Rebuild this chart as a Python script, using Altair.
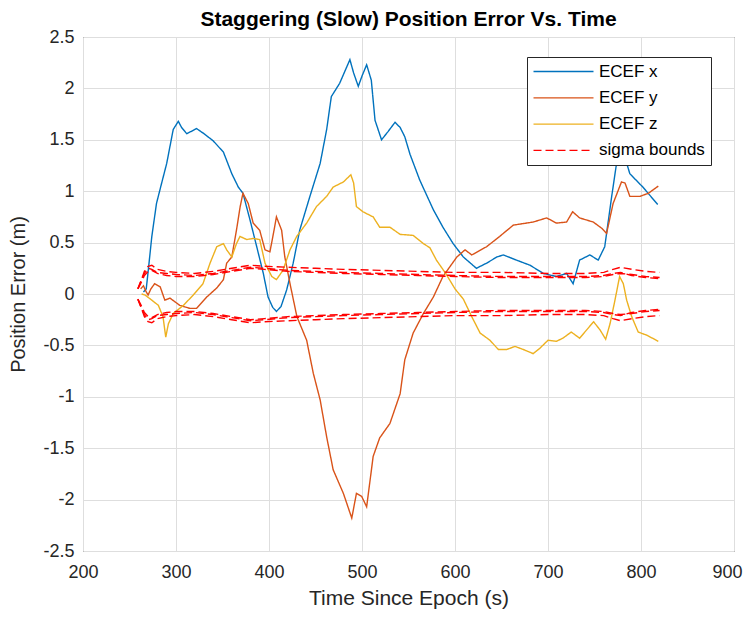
import altair as alt
import pandas as pd

# ---------------- data ----------------
x_t = [265, 268, 271, 274, 279, 284.6, 290, 297, 302.5, 306, 311.5, 316, 322, 330, 340, 351, 360, 367, 372,
       379.6, 386.8, 393.9, 399, 404, 408, 413, 419, 426, 433, 444, 455, 462, 467, 476, 487, 491, 496, 500,
       505, 510, 514, 521, 528, 535.5, 541, 546, 551.6, 562, 576.7, 587, 598, 609, 623, 634, 645, 652, 666,
       680.6, 695, 709, 720, 727, 734, 745, 754, 761, 768.5, 775, 778, 782, 788, 802, 818]
x_v = [0.02, 0.05, 0.3, 0.56, 0.88, 1.08, 1.27, 1.60, 1.68, 1.62, 1.56, 1.58, 1.61, 1.56, 1.49, 1.38, 1.17,
       1.04, 0.98, 0.72, 0.46, 0.20, -0.03, -0.13, -0.17, -0.12, 0.04, 0.30, 0.62, 0.95, 1.27, 1.6, 1.92,
       2.05, 2.28, 2.15, 2.02, 2.12, 2.23, 2.08, 1.69, 1.50, 1.58, 1.67, 1.62, 1.53, 1.36, 1.11, 0.82, 0.65,
       0.49, 0.36, 0.25, 0.30, 0.36, 0.38, 0.33, 0.28, 0.20, 0.17, 0.20, 0.10, 0.33, 0.38, 0.33, 0.46, 0.95,
       1.35, 1.45, 1.35, 1.17, 1.04, 0.87]

y_t = [262, 265, 268, 270, 273, 277, 283, 288, 293.5, 304, 315, 322, 333, 344, 351, 354.5, 360, 365, 369,
       372, 377.7, 383, 390, 395.7, 401, 405, 408, 413.6, 417, 422.6, 430, 440.5, 447.6, 455, 462, 469, 480,
       489, 494, 499.7, 505, 512, 519, 530, 541, 546, 555, 566, 576.7, 587, 602, 610.8, 618, 634, 648,
       662.7, 684, 698.6, 709, 720, 726.5, 734, 748.7, 757.7, 763, 770, 779, 782.8, 788, 799, 808, 818.6]
y_v = [0.05, 0.08, 0.02, -0.01, 0.05, 0.10, 0.07, -0.06, -0.04, -0.11, -0.14, -0.14, -0.03, 0.06, 0.14,
       0.30, 0.36, 0.62, 0.85, 0.98, 0.88, 0.69, 0.62, 0.43, 0.41, 0.60, 0.75, 0.62, 0.36, 0.10, -0.22,
       -0.45, -0.77, -1.03, -1.39, -1.71, -1.94, -2.18, -1.94, -1.97, -2.07, -1.58, -1.40, -1.26, -0.97,
       -0.64, -0.38, -0.19, -0.03, 0.17, 0.36, 0.43, 0.38, 0.46, 0.56, 0.67, 0.70, 0.74, 0.69, 0.70, 0.80,
       0.74, 0.70, 0.64, 0.59, 0.88, 1.09, 1.08, 0.95, 0.95, 0.98, 1.05]

z_t = [263, 266.7, 274, 281, 286, 289, 291.8, 297, 308, 318.6, 329, 336.6, 343.8, 351, 354.5, 360, 365,
       368.8, 376, 383, 390, 395.7, 403, 408, 415, 422.6, 429.8, 440.5, 451, 462, 469, 480, 488, 491, 494,
       501, 512, 519, 530, 541, 555, 566, 573, 580, 590, 600, 609, 618, 627, 637.6, 646.6, 655.6, 664.5,
       673.5, 684, 691, 700, 709, 716, 725, 734, 749, 756, 762, 766.7, 772, 777, 781, 784.6, 790, 797, 806,
       818.6]
z_v = [0.0, -0.01, -0.06, -0.11, -0.22, -0.42, -0.29, -0.19, -0.11, -0.01, 0.10, 0.30, 0.46, 0.49, 0.43,
       0.36, 0.49, 0.56, 0.53, 0.54, 0.53, 0.30, 0.17, 0.14, 0.23, 0.43, 0.56, 0.69, 0.85, 0.95, 1.04, 1.09,
       1.16, 1.08, 0.85, 0.80, 0.75, 0.65, 0.65, 0.58, 0.57, 0.49, 0.45, 0.33, 0.20, 0.05, -0.05, -0.22,
       -0.38, -0.45, -0.54, -0.54, -0.51, -0.54, -0.58, -0.53, -0.45, -0.46, -0.43, -0.37, -0.43, -0.27,
       -0.35, -0.44, -0.29, -0.06, 0.17, 0.10, -0.06, -0.22, -0.37, -0.40, -0.46]

sig_t = [259, 262, 266, 270, 274, 280, 290, 300, 320, 340, 360, 380, 395, 420, 450, 480, 520, 560, 600,
         650, 700, 740, 760, 770, 778, 790, 805, 820]
sig_x = [0.05, 0.12, 0.20, 0.25, 0.24, 0.21, 0.20, 0.19, 0.18, 0.20, 0.23, 0.26, 0.25, 0.23, 0.22, 0.21,
         0.20, 0.19, 0.18, 0.17, 0.17, 0.17, 0.18, 0.20, 0.21, 0.18, 0.16, 0.15]
sig_y = [0.05, 0.12, 0.22, 0.27, 0.28, 0.24, 0.22, 0.21, 0.20, 0.22, 0.25, 0.28, 0.27, 0.26, 0.25, 0.24,
         0.23, 0.22, 0.21, 0.21, 0.20, 0.20, 0.21, 0.24, 0.26, 0.24, 0.22, 0.21]
sig_z = [0.05, 0.10, 0.18, 0.22, 0.23, 0.20, 0.18, 0.17, 0.17, 0.19, 0.22, 0.25, 0.24, 0.22, 0.21, 0.20,
         0.19, 0.18, 0.17, 0.16, 0.16, 0.16, 0.17, 0.19, 0.20, 0.19, 0.17, 0.16]

series_names = ["ECEF x", "ECEF y", "ECEF z", "sigma bounds"]
series_colors = ["#0072BD", "#D95319", "#EDB120", "#FF0000"]
x_ticks = [200, 300, 400, 500, 600, 700, 800, 900]
y_ticks = [-2.5, -2, -1.5, -1, -0.5, 0, 0.5, 1, 1.5, 2, 2.5]

# ---------------- build long table ----------------
rows = []
for name, lid, ts, vs in [("ECEF x", "x", x_t, x_v), ("ECEF y", "y", y_t, y_v), ("ECEF z", "z", z_t, z_v)]:
    for t, v in zip(ts, vs):
        rows.append({"t": t, "v": v, "series": name, "line": lid})
for lid, s in [("sx", sig_x), ("sy", sig_y), ("sz", sig_z)]:
    for t, v in zip(sig_t, s):
        rows.append({"t": t, "v": v, "series": "sigma bounds", "line": lid + "+"})
        rows.append({"t": t, "v": -v, "series": "sigma bounds", "line": lid + "-"})
df = pd.DataFrame(rows)

FONT = "Liberation Sans"
legend_cfg = dict(
    title=None, orient="none", legendX=444, legendY=20,
    symbolType="M-4,0H4", symbolSize=225, symbolStrokeWidth=1.3,
    symbolOffset=22, labelOffset=27,
    labelFontSize=17, labelFont=FONT, labelColor="#000000",
    rowPadding=8.3, padding=6, strokeColor="#262626", fillColor="#ffffff",
)

chart = alt.Chart(df).mark_line(strokeWidth=1.4).encode(
    x=alt.X("t:Q", scale=alt.Scale(domain=[200, 900], nice=False, zero=False),
            axis=alt.Axis(title="Time Since Epoch (s)", values=x_ticks, format="d",
                          labelOffset={"condition": {"test": "datum.value === 900", "value": -7}, "value": 0})),
    y=alt.Y("v:Q", scale=alt.Scale(domain=[-2.5, 2.5], nice=False, zero=False),
            axis=alt.Axis(title="Position Error (m)", values=y_ticks, labelExpr="'' + datum.value")),
    color=alt.Color("series:N", scale=alt.Scale(domain=series_names, range=series_colors),
                    legend=alt.Legend(**legend_cfg)),
    strokeDash=alt.StrokeDash("series:N",
                              scale=alt.Scale(domain=series_names, range=[[1, 0], [1, 0], [1, 0], [8, 4]]),
                              legend=alt.Legend(**legend_cfg)),
    detail="line:N",
).properties(
    width=651, height=514,
    title=alt.TitleParams("Staggering (Slow) Position Error Vs. Time", fontSize=21, fontWeight="bold",
                          font=FONT, color="#000000", offset=-2),
    autosize=alt.AutoSizeParams(type="none"),
    padding={"left": 75, "top": 29, "right": 9, "bottom": 59},
).configure_view(
    stroke="#262626", strokeWidth=1
).configure_axis(
    domain=False, ticks=False, grid=True, gridColor="#dedede", gridWidth=1, labelFlush=False,
    labelFont=FONT, labelFontSize=18, labelColor="#262626",
    titleFont=FONT, titleFontWeight="normal", titleColor="#262626",
).configure_axisX(labelPadding=12, titlePadding=6, titleFontSize=21
).configure_axisY(labelPadding=9, titlePadding=14, titleFontSize=20)

chart.save("out.html", embed_options={"renderer": "svg", "actions": False})
